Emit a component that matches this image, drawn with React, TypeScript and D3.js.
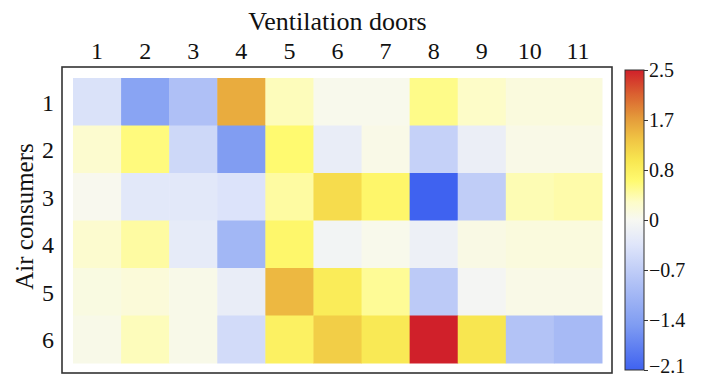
import React, { useEffect, useRef } from 'react';
import * as d3 from 'd3';

const doors = ['1', '2', '3', '4', '5', '6', '7', '8', '9', '10', '11'];
const consumers = ['1', '2', '3', '4', '5', '6'];

// one array per consumer row, values across the 11 doors
const row1 = [-0.4, -1.35, -0.9, 1.55, 0.35, 0.04, 0.04, 0.55, 0.3, 0.15, 0.15];
const row2 = [0.25, 0.6, -0.55, -1.45, 0.65, -0.2, 0.08, -0.65, -0.18, 0.08, 0.08];
const row3 = [0.03, -0.3, -0.3, -0.38, 0.45, 1.1, 0.72, -2.1, -0.7, 0.38, 0.42];
const row4 = [0.25, 0.45, -0.25, -1.05, 0.7, -0.08, 0.05, -0.15, 0.1, 0.15, 0.15];
const row5 = [0.12, 0.18, 0.07, -0.2, 1.45, 0.9, 0.5, -0.75, -0.05, 0.08, 0.08];
const row6 = [0.07, 0.35, 0.07, -0.5, 0.8, 1.25, 0.95, 2.5, 1.0, -0.85, -1.0];
const rows = [row1, row2, row3, row4, row5, row6];

const vmin = -2.1;
const vmax = 2.5;
const cbarTicks = [-2.1, -1.4, -0.7, 0, 2.5 / 3, 5 / 3, 2.5];

// colour map stops (position 0..1 after two-slope normalisation)
const cmapPos = [0, 0.15, 0.3, 0.42, 0.5, 0.56, 0.63, 0.7, 0.77, 0.84, 0.92, 1];
const cmapCol = ['#3f62f0', '#7f9cf2', '#b4c4f6', '#e0e6fa', '#f7f8f2', '#fdfcc8', '#fffa70', '#f8e650', '#f0c444', '#e49a3a', '#da6030', '#d0202a'];

const App = () => {
  const svgRef = useRef<SVGSVGElement>(null);

  useEffect(() => {
    const w = 702;
    const h = 378;
    const svg = d3.select(svgRef.current).attr('width', w).attr('height', h);
    svg.selectAll('*').remove();

    const font = "'Liberation Serif', serif";
    const norm = d3.scaleLinear().domain([vmin, 0, vmax]).range([0, 0.5, 1]).clamp(true);
    const cmap = d3.scaleLinear<string>().domain(cmapPos).range(cmapCol).interpolate(d3.interpolateRgb);
    const color = (v: number) => cmap(norm(v));

    const x = d3.scaleBand().domain(doors).range([73, 602]);
    const y = d3.scaleBand().domain(consumers).range([78, 363]);

    const cells = rows.flatMap((r, i) => r.map((v, j) => ({ row: consumers[i], col: doors[j], v })));
    svg.append('g')
      .selectAll('rect')
      .data(cells)
      .join('rect')
      .attr('x', d => x(d.col)!)
      .attr('y', d => y(d.row)!)
      .attr('width', x.bandwidth() + 0.5)
      .attr('height', y.bandwidth() + 0.5)
      .attr('fill', d => color(d.v));

    // frame
    svg.append('rect')
      .attr('x', 62).attr('y', 67).attr('width', 550).attr('height', 306)
      .attr('fill', 'none').attr('stroke', '#333').attr('stroke-width', 1.6);

    // top axis labels
    svg.append('g')
      .selectAll('text')
      .data(doors)
      .join('text')
      .attr('x', d => x(d)! + x.bandwidth() / 2)
      .attr('y', 59)
      .attr('text-anchor', 'middle')
      .style('font-family', font)
      .style('font-size', '24px')
      .attr('fill', '#111')
      .text(d => d);

    svg.append('text')
      .attr('x', (73 + 602) / 2).attr('y', 30)
      .attr('text-anchor', 'middle')
      .style('font-family', font).style('font-size', '26px')
      .attr('fill', '#111')
      .text('Ventilation doors');

    // left axis labels
    svg.append('g')
      .selectAll('text')
      .data(consumers)
      .join('text')
      .attr('x', 54)
      .attr('y', d => y(d)! + y.bandwidth() / 2 + 9)
      .attr('text-anchor', 'end')
      .style('font-family', font)
      .style('font-size', '24px')
      .attr('fill', '#111')
      .text(d => d);

    svg.append('text')
      .attr('transform', `translate(33,${(78 + 363) / 2 - 4}) rotate(-90)`)
      .attr('text-anchor', 'middle')
      .style('font-family', font).style('font-size', '25px')
      .attr('fill', '#111')
      .text('Air consumers');

    // colorbar
    const cbTop = 70;
    const cbBot = 370;
    const cbX = 625;
    const cbW = 19;
    const grad = svg.append('defs').append('linearGradient')
      .attr('id', 'cbgrad').attr('x1', 0).attr('y1', 1).attr('x2', 0).attr('y2', 0);
    grad.selectAll('stop')
      .data(cmapPos)
      .join('stop')
      .attr('offset', d => d)
      .attr('stop-color', (d, i) => cmapCol[i]);

    svg.append('rect')
      .attr('x', cbX).attr('y', cbTop).attr('width', cbW).attr('height', cbBot - cbTop)
      .attr('fill', 'url(#cbgrad)').attr('stroke', '#333').attr('stroke-width', 1);

    const cy = d3.scaleLinear().domain([vmin, 0, vmax]).range([cbBot, (cbTop + cbBot) / 2, cbTop]);
    const fmt = d3.format('.1f');
    const axis = d3.axisRight(cy)
      .tickValues(cbarTicks)
      .tickSize(4)
      .tickFormat(d => (+d === 0 ? '0' : fmt(+d)));
    const ag = svg.append('g').attr('transform', `translate(${cbX + cbW},0)`).call(axis);
    ag.select('.domain').remove();
    ag.selectAll('line').attr('stroke', '#333');
    ag.selectAll('text')
      .attr('x', 5)
      .attr('dy', (d: any) => (+d === vmin ? '0.12em' : '0.32em'))
      .style('font-family', font)
      .style('font-size', '20px')
      .attr('fill', '#111');
  }, []);

  return (
    <div style={{ position: 'absolute', left: 0, top: 0 }}>
      <svg ref={svgRef} style={{ display: 'block' }}></svg>
    </div>
  );
};

export default App;
